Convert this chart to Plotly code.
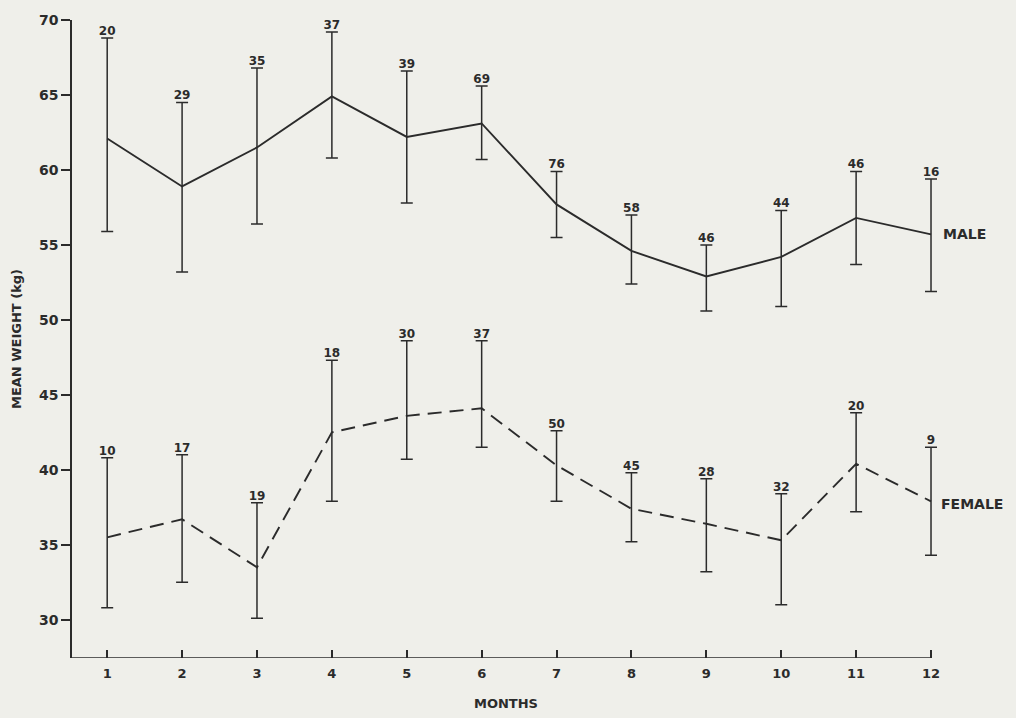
import plotly.graph_objects as go

months = [1, 2, 3, 4, 5, 6, 7, 8, 9, 10, 11, 12]

male_mean = [62.1, 58.9, 61.5, 64.9, 62.2, 63.1, 57.7, 54.6, 52.9, 54.2, 56.8, 55.7]
male_upper = [68.8, 64.5, 66.8, 69.2, 66.6, 65.6, 59.9, 57.0, 55.0, 57.3, 59.9, 59.4]
male_lower = [55.9, 53.2, 56.4, 60.8, 57.8, 60.7, 55.5, 52.4, 50.6, 50.9, 53.7, 51.9]
male_n = ["20", "29", "35", "37", "39", "69", "76", "58", "46", "44", "46", "16"]

female_mean = [35.5, 36.7, 33.5, 42.5, 43.6, 44.1, 40.3, 37.4, 36.4, 35.3, 40.4, 37.9]
female_upper = [40.8, 41.0, 37.8, 47.3, 48.6, 48.6, 42.6, 39.8, 39.4, 38.4, 43.8, 41.5]
female_lower = [30.8, 32.5, 30.1, 37.9, 40.7, 41.5, 37.9, 35.2, 33.2, 31.0, 37.2, 34.3]
female_n = ["10", "17", "19", "18", "30", "37", "50", "45", "28", "32", "20", "9"]

y_ticks = [30, 35, 40, 45, 50, 55, 60, 65, 70]

INK = "#2b2b2b"
BG = "#efefea"
FONT = "DejaVu Sans, Liberation Sans, Arial, sans-serif"

X_MIN, X_MAX = 0.53, 12.12
Y_MIN, Y_MAX = 27.45, 70.0

fig = go.Figure()

def add_series(mean, upper, lower, labels, dash):
    plus = [u - m for u, m in zip(upper, mean)]
    minus = [m - l for m, l in zip(mean, lower)]
    fig.add_trace(go.Scatter(
        x=months, y=mean, mode="lines",
        line=dict(color=INK, width=1.9, dash=dash),
        error_y=dict(type="data", symmetric=False, array=plus, arrayminus=minus,
                     color=INK, thickness=1.5, width=6),
        showlegend=False, hoverinfo="skip", cliponaxis=False,
    ))
    fig.add_trace(go.Scatter(
        x=months, y=upper, mode="text", text=labels,
        textposition="top center",
        textfont=dict(family=FONT, size=12, color=INK, weight="bold"),
        showlegend=False, hoverinfo="skip", cliponaxis=False,
    ))

add_series(male_mean, male_upper, male_lower, male_n, "solid")
add_series(female_mean, female_upper, female_lower, female_n, "14px,8px")

fig.add_annotation(x=months[-1], y=male_mean[-1], text="MALE", xref="x", yref="y",
                   showarrow=False, xanchor="left", xshift=10,
                   font=dict(family=FONT, size=14, color=INK, weight="bold"))
fig.add_annotation(x=months[-1], y=female_mean[-1], text="FEMALE", xref="x", yref="y",
                   showarrow=False, xanchor="left", xshift=8, yshift=-3,
                   font=dict(family=FONT, size=14, color=INK, weight="bold"))

# x-axis baseline ending at the last month
fig.add_shape(type="line", xref="x", yref="y", x0=X_MIN, x1=months[-1], y0=Y_MIN, y1=Y_MIN,
              line=dict(color=INK, width=1.5), layer="above")

fig.update_layout(
    width=1016, height=718,
    paper_bgcolor=BG, plot_bgcolor=BG,
    margin=dict(l=72, r=76, t=20, b=60),
    font=dict(family=FONT, color=INK, size=13),
    xaxis=dict(
        range=[X_MIN, X_MAX], tickmode="array", tickvals=months,
        ticks="inside", ticklen=8, tickwidth=1.5, tickcolor=INK,
        showline=False, showgrid=False, zeroline=False, automargin=False,
        ticklabelstandoff=6,
        tickfont=dict(family=FONT, size=13, color=INK, weight="bold"),
        title=dict(text="MONTHS", font=dict(family=FONT, size=13, color=INK, weight="bold"),
                   standoff=18),
    ),
    yaxis=dict(
        range=[Y_MIN, Y_MAX], tickmode="array", tickvals=y_ticks,
        ticks="outside", ticklen=9, tickwidth=1.5, tickcolor=INK,
        showline=True, linecolor=INK, linewidth=1.5, showgrid=False, zeroline=False,
        automargin=False,
        tickfont=dict(family=FONT, size=14, color=INK, weight="bold"),
        title=dict(text="MEAN WEIGHT (kg)", font=dict(family=FONT, size=13, color=INK, weight="bold"),
                   standoff=14),
    ),
)

fig.write_html(
    "out.html",
    config={"displayModeBar": False},
    post_script="document.body.style.margin='0px';document.body.style.background='#efefea';",
)
